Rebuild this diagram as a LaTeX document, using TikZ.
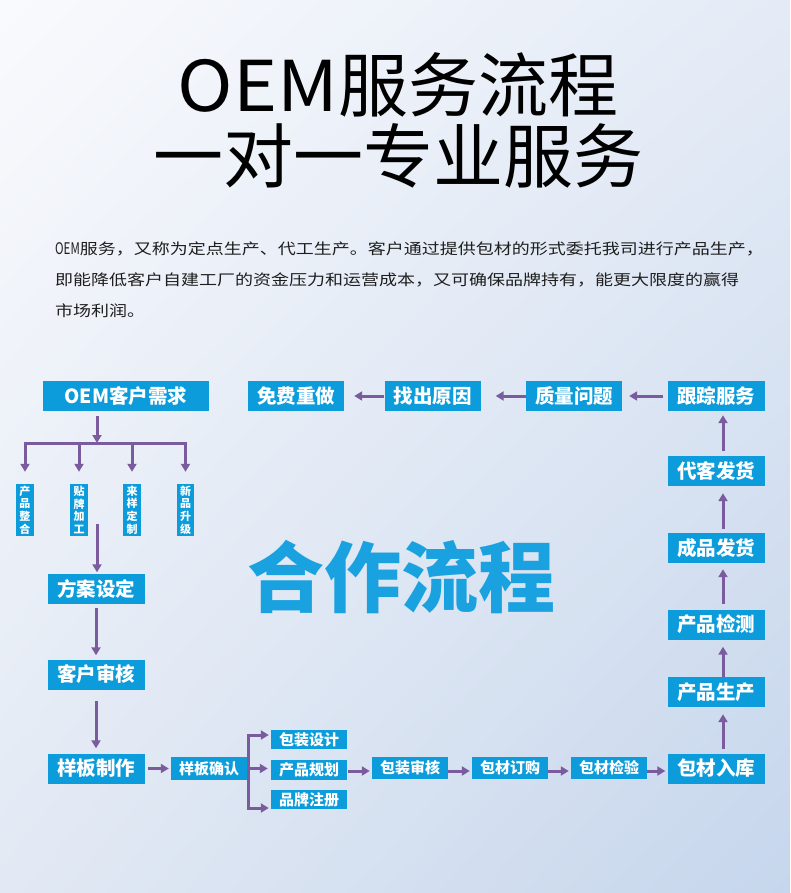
\documentclass[tikz,border=0pt]{standalone}
\usepackage{fontspec}
\setmainfont{Noto Sans CJK SC}
\newfontfamily\titlelat[FakeStretch=1.07]{Noto Sans CJK SC}
\newfontfamily\parafont[FakeStretch=1.2]{Noto Sans CJK SC}
\newfontfamily\oemfont[FakeStretch=0.72]{Noto Sans CJK SC}
\usetikzlibrary{arrows.meta,shadings}
\definecolor{bxblue}{HTML}{0C9CDB}
\definecolor{arrc}{HTML}{7A5C9E}
\definecolor{bigblue}{HTML}{1AA2E0}
\definecolor{txt}{HTML}{1E1E1E}
\definecolor{bgA}{HTML}{F9FAFD}
\definecolor{bgB}{HTML}{E4EBF6}
\definecolor{bgC}{HTML}{E2E9F4}
\definecolor{bgD}{HTML}{C6D6EC}
\tikzset{
  bx/.style={fill=bxblue, text=white, inner sep=0pt, font=\bfseries\fontsize{19.5}{19.5}\selectfont},
  bxm/.style={bx, minimum width=97pt, minimum height=30pt},
  bxs/.style={bx, font=\bfseries\fontsize{15}{15}\selectfont, minimum width=76pt, minimum height=21pt},
  bxv/.style={bx, font=\bfseries\fontsize{11}{12.6}\selectfont, minimum width=17.5pt, minimum height=52pt, align=center},
  ln/.style={draw=arrc, line width=3pt},
  arr/.style={draw=arrc, line width=3pt, -{Triangle[width=9pt,length=8pt]}},
  para/.style={anchor=base west, inner sep=0, text=txt, font=\parafont\fontsize{15}{15}\selectfont},
  ttl/.style={anchor=base, inner sep=0, font=\fontsize{70}{70}\selectfont},
}
\begin{document}
\begin{tikzpicture}[x=1pt,y=-1pt]
\shade[upper left=bgA, upper right=bgB, lower left=bgC, lower right=bgD] (0,0) rectangle (790,893);
\useasboundingbox (0,0) rectangle (790,893);

% title
\node[ttl, text height=52pt, text depth=5pt] (t1) at (398,112) {{\titlelat OEM}服务流程};
\node[ttl, text height=54pt, text depth=5pt] (t2) at (398,183) {一对一专业服务};

% paragraph
\node[para] (p1) at (55,254) {{\oemfont\fontsize{16}{16}\selectfont OEM}服务，又称为定点生产、代工生产。客户通过提供包材的形式委托我司进行产品生产，};
\node[para] (p2) at (55,285) {即能降低客户自建工厂的资金压力和运营成本，又可确保品牌持有，能更大限度的赢得};
\node[para] (p3) at (55,316) {市场利润。};

% big center title
\node[anchor=base, inner sep=0, text=bigblue, font=\bfseries\fontsize{77}{77}\selectfont] (hz) at (401,606) {合作流程};

% boxes
\node[bx, minimum width=166pt, minimum height=30pt] (need) at (126,396) {OEM客户需求};
\node[bxv] (s1) at (25,510) {产\\品\\整\\合};
\node[bxv] (s2) at (79,510) {贴\\牌\\加\\工};
\node[bxv] (s3) at (132,510) {来\\样\\定\\制};
\node[bxv] (s4) at (185.5,510) {新\\品\\升\\级};
\node[bxm] (fa) at (96,588.5) {方案设定};
\node[bxm] (sh) at (96,674.5) {客户审核};
\node[bxm] (zz) at (96,768.5) {样板制作};
\node[bxs, minimum height=23pt] (qr) at (209,768.5) {样板确认};
\node[bxs, minimum height=19pt] (bz) at (309,739.5) {包装设计};
\node[bxs, minimum height=20pt] (gh) at (309,770) {产品规划};
\node[bxs, minimum height=19pt] (pp) at (309,799.5) {品牌注册};
\node[bxs, minimum height=22pt] (bs) at (410,768) {包装审核};
\node[bxs, minimum height=22pt] (dg) at (510,768) {包材订购};
\node[bxs, minimum height=22pt] (jy) at (609,768) {包材检验};
\node[bxm] (rk) at (716,768.5) {包材入库};
\node[bxm] (sc) at (716,692) {产品生产};
\node[bxm] (jc) at (716,624.5) {产品检测};
\node[bxm] (cf) at (716,548) {成品发货};
\node[bxm] (dk) at (716,471) {代客发货};
\node[bxm] (gz) at (716,396) {跟踪服务};
\node[bxm, minimum width=96pt] (zl) at (574,396) {质量问题};
\node[bxm, minimum width=96pt] (yy) at (432.5,396) {找出原因};
\node[bxm, minimum width=96pt] (mf) at (296,396) {免费重做};

% need -> branches
\coordinate (bar) at (97,443);
\draw[arr, shorten <=5pt] (need.south -| bar) -- (bar);
\draw[ln, line cap=rect] (s1.north |- bar) -- (s4.north |- bar);
\foreach \s in {s1,s2,s3,s4}{
  \draw[arr, shorten >=12pt] (\s.north |- bar) -- (\s.north);
}
\coordinate (mid) at (97,524);
\draw[arr, shorten >=1pt] (mid) -- (mid |- fa.north);

% left column
\draw[arr, shorten <=4pt, shorten >=4pt] (fa) -- (sh);
\draw[arr, shorten <=11pt, shorten >=5pt] (sh) -- (zz);
\draw[arr, shorten <=3pt, shorten >=2pt] (zz) -- (qr);

% bracket
\coordinate (bt) at (248,735);
\coordinate (bb) at (248,808);
\draw[ln, line cap=rect] (bt) -- (bb);
\draw[arr, shorten >=2pt] (bt) -- (bt -| bz.west);
\draw[arr, shorten >=3pt] (qr.east) -- (qr.east -| gh.west);
\draw[arr, shorten >=2pt] (bb) -- (bb -| pp.west);

% bottom row
\coordinate (r) at (0,771);
\draw[arr, shorten <=1pt, shorten >=2pt] (gh.east |- r) -- (bs.west |- r);
\draw[arr, shorten >=2pt] (bs.east |- r) -- (dg.west |- r);
\draw[arr, shorten >=2pt] (dg.east |- r) -- (jy.west |- r);
\draw[arr, shorten >=2pt] (jy.east |- r) -- (rk.west |- r);

% right column
\draw[arr, shorten <=4pt, shorten >=7pt] ([xshift=7pt]rk.north) -- ([xshift=7pt]sc.south);
\draw[arr, shorten <=0pt, shorten >=7pt] ([xshift=7pt]sc.north) -- ([xshift=7pt]jc.south);
\draw[arr, shorten <=5pt, shorten >=6pt] ([xshift=7pt]jc.north) -- ([xshift=7pt]cf.south);
\draw[arr, shorten <=4pt, shorten >=7pt] ([xshift=7pt]cf.north) -- ([xshift=7pt]dk.south);
\draw[arr, shorten <=5pt, shorten >=4pt] ([xshift=7pt]dk.north) -- ([xshift=7pt]gz.south);

% top row
\draw[arr, shorten <=4pt, shorten >=7pt] (gz) -- (zl);
\draw[arr, shorten >=15pt] (zl) -- (yy);
\draw[arr, shorten >=10pt] (yy) -- (mf);
\end{tikzpicture}
\end{document}
